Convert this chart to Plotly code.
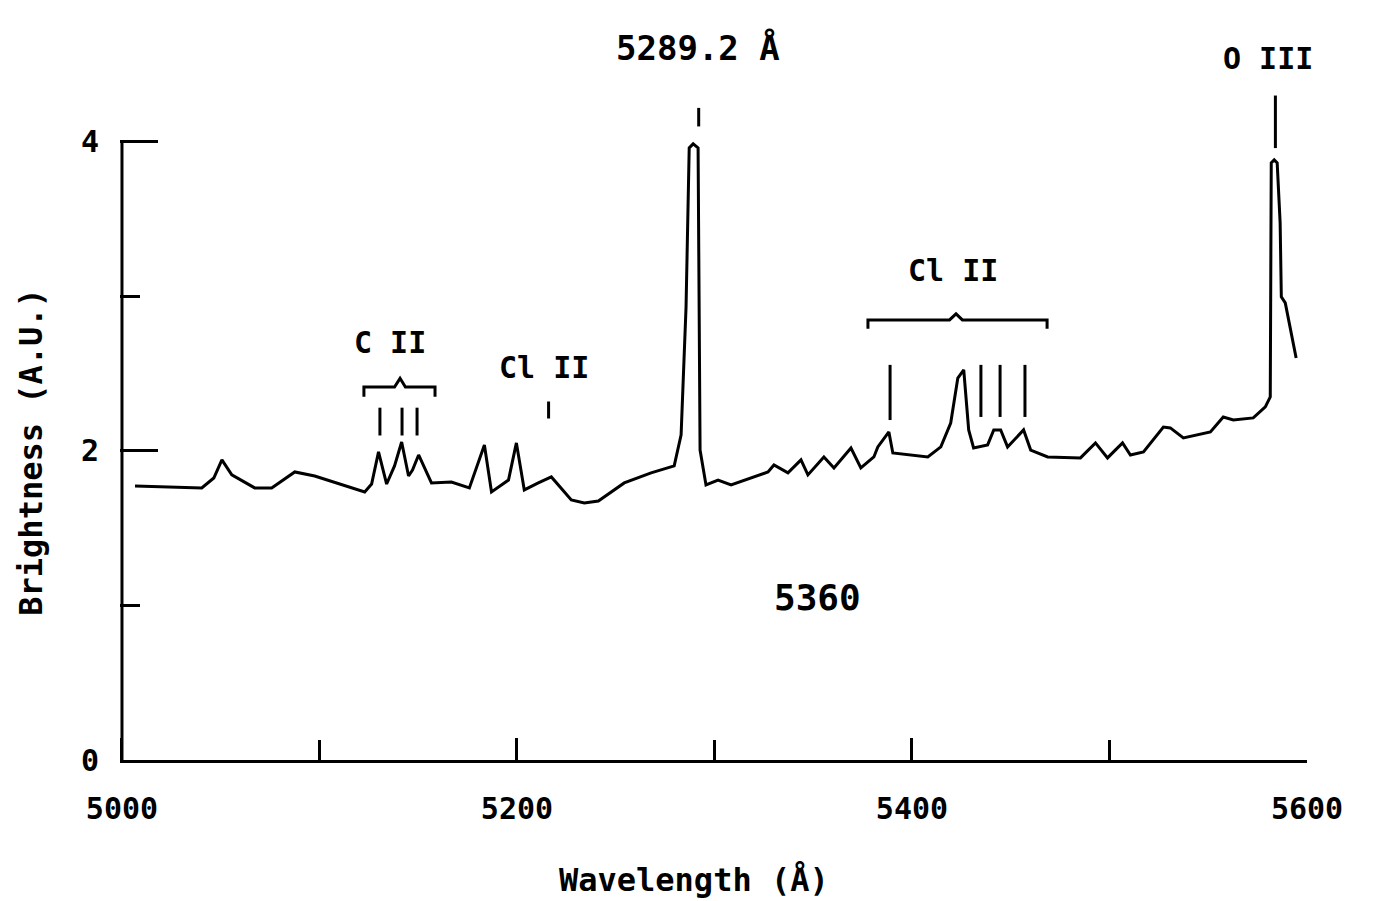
import plotly.graph_objects as go

# ---------------- data ----------------
wavelength = [5006.6, 5040.4, 5046.5, 5050.6, 5055.6, 5067.2, 5075.8, 5087.5, 5097.6, 5114.8,
              5122.9, 5126.4, 5129.9, 5134.0, 5138.0, 5141.6, 5145.1, 5147.1, 5150.2, 5156.7,
              5166.8, 5175.9, 5183.5, 5187.1, 5195.7, 5199.7, 5203.7, 5210.8, 5217.4, 5227.5,
              5234.1, 5241.2, 5254.3, 5267.9, 5279.6, 5283.1, 5285.6, 5287.2, 5289.2, 5291.7,
              5292.7, 5295.7, 5301.8, 5308.4, 5327.1, 5330.1, 5337.2, 5343.8, 5347.3, 5355.4,
              5360.5, 5369.1, 5374.1, 5380.7, 5382.7, 5388.3, 5390.3, 5408.0, 5414.6, 5419.6,
              5423.2, 5426.2, 5428.7, 5431.2, 5438.3, 5441.4, 5444.9, 5448.4, 5456.5, 5460.1,
              5468.7, 5485.3, 5492.9, 5499.0, 5506.6, 5510.6, 5517.2, 5527.3, 5530.8, 5537.4,
              5551.1, 5557.6, 5562.7, 5572.8, 5578.9, 5581.4, 5581.9, 5583.4, 5584.9, 5586.4,
              5587.0, 5589.0, 5594.5]
brightness = [1.773, 1.761, 1.825, 1.942, 1.845, 1.761, 1.761, 1.864, 1.838, 1.767,
              1.735, 1.786, 1.994, 1.786, 1.903, 2.058, 1.838, 1.877, 1.974, 1.793,
              1.799, 1.761, 2.039, 1.735, 1.812, 2.052, 1.748, 1.793, 1.832, 1.683,
              1.663, 1.676, 1.793, 1.858, 1.903, 2.104, 2.932, 3.961, 3.987, 3.961,
              2.006, 1.780, 1.812, 1.780, 1.864, 1.909, 1.858, 1.942, 1.845, 1.961,
              1.890, 2.019, 1.890, 1.961, 2.026, 2.123, 1.987, 1.961, 2.026, 2.181,
              2.472, 2.524, 2.136, 2.019, 2.039, 2.136, 2.136, 2.026, 2.136, 2.006,
              1.961, 1.955, 2.052, 1.955, 2.052, 1.974, 1.994, 2.155, 2.149, 2.084,
              2.123, 2.220, 2.201, 2.214, 2.285, 2.350, 3.864, 3.883, 3.864, 3.476,
              2.997, 2.958, 2.602]

# line-identification tick marks: (wavelength, bottom, top)
marker_5289 = [(5292.0, 4.10, 4.22)]
marker_o3 = [(5584.0, 3.96, 4.30)]
ticks_c2 = [(5130.6, 2.10, 2.28), (5141.8, 2.10, 2.28), (5149.4, 2.10, 2.28)]
ticks_cl2_left = [(5216.0, 2.21, 2.32)]
ticks_cl2_right = [(5388.9, 2.20, 2.557), (5434.9, 2.22, 2.557),
                   (5444.6, 2.22, 2.557), (5457.2, 2.22, 2.557)]

# group brackets
bracket_c2_x = [5122.5, 5122.5, 5138.0, 5140.8, 5143.5, 5158.5, 5158.5]
bracket_c2_y = [2.35, 2.414, 2.414, 2.47, 2.414, 2.414, 2.35]
bracket_cl2_x = [5377.7, 5377.7, 5419.0, 5422.3, 5425.5, 5468.4, 5468.4]
bracket_cl2_y = [2.79, 2.848, 2.848, 2.887, 2.848, 2.848, 2.79]

# text labels: (text, wavelength, brightness, size)
labels = [
    ("5289.2 Å", 5291.7, 4.61, 34),
    ("O III", 5580.4, 4.54, 30),
    ("C II", 5135.5, 2.70, 30),
    ("Cl II", 5213.9, 2.54, 30),
    ("Cl II", 5420.6, 3.17, 30),
    ("5360", 5352.4, 1.05, 36),
]

x_tickvals = [5000, 5200, 5400, 5600]
x_minor_ticks = [5100, 5300, 5500]
y_tickvals = [0, 2, 4]
y_minor_ticks = [1, 3]
y_axis_top = 4

FONT = "DejaVu Sans Mono"
INK = "black"


def segments(items):
    xs, ys = [], []
    for x, y0, y1 in items:
        xs += [x, x, None]
        ys += [y0, y1, None]
    return xs, ys


fig = go.Figure()

# y axis line (ends at the top tick)
fig.add_trace(go.Scatter(x=[x_tickvals[0], x_tickvals[0]], y=[0, y_axis_top], mode="lines",
                         line=dict(color=INK, width=3), hoverinfo="skip"))

# spectrum
fig.add_trace(go.Scatter(x=wavelength, y=brightness, mode="lines",
                         line=dict(color=INK, width=3)))

# identification ticks
mx, my = segments(marker_5289 + marker_o3 + ticks_c2 + ticks_cl2_left + ticks_cl2_right)
fig.add_trace(go.Scatter(x=mx, y=my, mode="lines", line=dict(color=INK, width=3),
                         hoverinfo="skip"))

# brackets
for bx, by in [(bracket_c2_x, bracket_c2_y), (bracket_cl2_x, bracket_cl2_y)]:
    fig.add_trace(go.Scatter(x=bx, y=by, mode="lines", line=dict(color=INK, width=3),
                             hoverinfo="skip"))

annotations = []
for text, lx, ly, size in labels:
    annotations.append(dict(x=lx, y=ly, xref="x", yref="y", text=text, showarrow=False,
                            font=dict(family=FONT, size=size, color=INK, weight="bold"),
                            xanchor="center", yanchor="middle"))

# axis titles
annotations.append(dict(x=0.4836, y=-0.1635, xref="paper", yref="paper",
                        text="Wavelength (Å)", showarrow=False,
                        font=dict(family=FONT, size=32, color=INK, weight="bold"),
                        xanchor="center", yanchor="middle"))
annotations.append(dict(x=-0.075, y=0.42, xref="paper", yref="paper",
                        text="Brightness (A.U.)", showarrow=False, textangle=-90,
                        font=dict(family=FONT, size=32, color=INK, weight="bold"),
                        xanchor="center", yanchor="middle"))

fig.update_layout(
    width=1375, height=901,
    margin=dict(l=120, r=68, t=26, b=141),
    paper_bgcolor="white", plot_bgcolor="white",
    showlegend=False,
    annotations=annotations,
    xaxis=dict(range=[4999, 5600], tickvals=x_tickvals, ticks="inside", ticklen=22,
               tickwidth=3, tickcolor=INK, showline=True, linewidth=3, linecolor=INK,
               showgrid=False, zeroline=False, ticklabelstandoff=20,
               tickfont=dict(family=FONT, size=30, color=INK, weight="bold"),
               minor=dict(tickvals=x_minor_ticks, ticks="inside", ticklen=20,
                          tickwidth=3, tickcolor=INK, showgrid=False)),
    yaxis=dict(range=[0, 4.75], tickvals=y_tickvals, ticks="inside", ticklen=38,
               tickwidth=3, tickcolor=INK, showline=False, showgrid=False,
               zeroline=False, ticklabelstandoff=20,
               tickfont=dict(family=FONT, size=30, color=INK, weight="bold"),
               minor=dict(tickvals=y_minor_ticks, ticks="inside", ticklen=20,
                          tickwidth=3, tickcolor=INK, showgrid=False)),
)

fig.write_html("out.html")
